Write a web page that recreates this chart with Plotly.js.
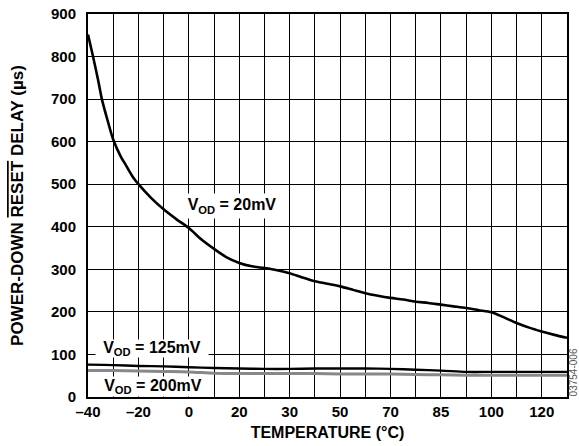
<!DOCTYPE html>
<html>
<head>
<meta charset="utf-8">
<script src="https://cdn.plot.ly/plotly-3.0.1.min.js"></script>
<style>html,body{margin:0;padding:0;background:#fff;}#chart{width:579px;height:446px;}</style>
</head>
<body>
<div id="chart"></div>
<script>
// x positions: one gridline step = 10 units; labelled ticks carry the printed temperatures
const tickPositions = [-40,-20,0,20,40,60,80,100,120,140];
const tickTexts = ["–40","–20","0","20","30","50","70","85","100","120"];

const x20 = [-40,-38,-36,-34.5,-32,-30,-27,-25,-22,-20,-15,-10,-5,0,5,10,15,20,25,30,35,40,45,50,55,60,65,70,75,80,85,90,95,100,105,110,115,120,125,130,135,140,145,150];
const y20 = [852,800,745,700,645,605,565,545,515,500,468,441,418,397,370,348,328,315,307,303,298,291,281,272,266,260,252,244,238,233,229,224,221,217,213,209,204,199,187,174,163,154,146,139];

const x125 = [-40,-30,-20,-10,0,10,20,30,40,50,60,70,80,90,100,110,120,130,140,150];
const y125 = [76,75,73,72,70,68,67,66,66,67,67,67,66,64,62,59,59,59,59,59];

const x200 = [-40,-30,-20,-10,0,10,20,30,40,50,60,70,80,90,100,110,120,130,140,150];
const y200 = [62,62,61,60,59,56,55,55,55,55,54,54,54,53,52,51,51,51,51,51];

const FONT = "Liberation Sans, Arial, Helvetica, sans-serif";

const traces = [
  {x: x20, y: y20, mode: "lines", line: {color: "#000", width: 2.6, shape: "spline", smoothing: 0.8}, hoverinfo: "skip"},
  {x: x200, y: y200, mode: "lines", line: {color: "#888", width: 3, shape: "spline", smoothing: 0.8}, hoverinfo: "skip"},
  {x: x125, y: y125, mode: "lines", line: {color: "#000", width: 2.4, shape: "spline", smoothing: 0.8}, hoverinfo: "skip"}
];

const layout = {
  width: 579, height: 446,
  margin: {l: 88, r: 12, t: 14, b: 49},
  paper_bgcolor: "#fff", plot_bgcolor: "#fff",
  showlegend: false,
  font: {family: FONT, size: 15, color: "#000", weight: "bold"},
  xaxis: {
    range: [-40, 150], tickmode: "array", tickvals: tickPositions, ticktext: tickTexts,
    showgrid: true, gridcolor: "#000", gridwidth: 1,
    minor: {tick0: -40, dtick: 10, showgrid: true, gridcolor: "#000", gridwidth: 1, ticks: ""},
    showline: true, linecolor: "#000", linewidth: 2, mirror: true,
    ticks: "", ticklabelstandoff: 0, zeroline: false, automargin: false,
    tickfont: {family: FONT, size: 15, color: "#000", weight: "bold"},
    title: {text: "TEMPERATURE (°C)", standoff: 8, font: {family: FONT, size: 16, color: "#000", weight: "bold"}}
  },
  yaxis: {
    range: [0, 900], tickmode: "linear", tick0: 0, dtick: 100,
    showgrid: true, gridcolor: "#000", gridwidth: 1,
    showline: true, linecolor: "#000", linewidth: 2, mirror: true,
    ticks: "", ticklabelstandoff: 7, zeroline: false, automargin: false,
    tickfont: {family: FONT, size: 15, color: "#000", weight: "bold"},
    title: {text: 'POWER-DOWN <span style="text-decoration:overline">RESET</span> DELAY (µs)', standoff: 23, font: {family: FONT, size: 17, color: "#000", weight: "bold"}}
  },
  annotations: [
    {x: 17.3, y: 449, xref: "x", yref: "y", text: "V<sub>OD</sub> = 20mV", showarrow: false, bgcolor: "#fff", width: 100, height: 22, borderpad: 1, font: {family: FONT, size: 16, color: "#000", weight: "bold"}},
    {x: -14.5, y: 114, xref: "x", yref: "y", text: "V<sub>OD</sub> = 125mV", showarrow: false, bgcolor: "#fff", width: 110, height: 15, borderpad: 1, font: {family: FONT, size: 16, color: "#000", weight: "bold"}},
    {x: -14.1, y: 25, xref: "x", yref: "y", text: "V<sub>OD</sub> = 200mV", showarrow: false, bgcolor: "#fff", width: 106, height: 17, borderpad: 1, font: {family: FONT, size: 16, color: "#000", weight: "bold"}},
    {x: 1.0136, y: 0.063, xref: "paper", yref: "paper", xanchor: "center", yanchor: "middle", text: "03754-006", showarrow: false, textangle: -90, font: {family: FONT, size: 10, color: "#555", weight: "normal"}}
  ]
};

Plotly.newPlot("chart", traces, layout, {staticPlot: true, displayModeBar: false});
</script>
</body>
</html>
